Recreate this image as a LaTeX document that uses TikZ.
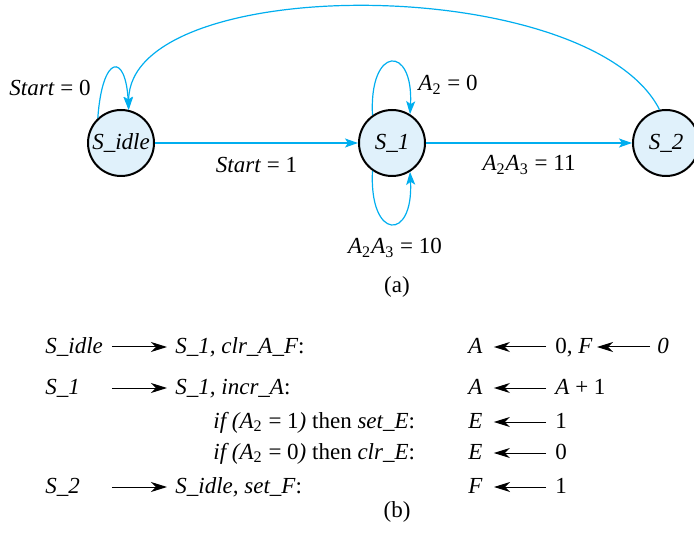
\documentclass[tikz,border=0pt]{standalone}
\usepackage{fontspec}
\setmainfont{Liberation Serif}
\usetikzlibrary{arrows.meta}
\definecolor{fsmcyan}{RGB}{0,174,239}
\definecolor{stfill}{RGB}{224,241,251}
\tikzset{
  state/.style={circle,draw,line width=1pt,fill=stfill,minimum size=33pt,inner sep=0pt,font=\itshape},
  trans/.style={draw=fsmcyan,line width=0.6pt,-{Stealth[length=6.5pt,width=4.5pt,inset=1.5pt]}},
  lbl/.style={inner sep=1pt},
  src/.style={anchor=base west,inner sep=0pt,text width=33pt,text height=8pt,text depth=2pt},
  txt/.style={anchor=base west,inner sep=0pt,text height=8pt,text depth=2pt},
  act/.style={line width=0.5pt,-{Stealth[length=8pt,width=5pt,inset=2.5pt]},shorten >=5.5pt,shorten <=4.5pt}
}
\begin{document}
\fontsize{11.5}{13.5}\selectfont
\begin{tikzpicture}[x=0.5pt,y=0.5pt]
\useasboundingbox (0,0) rectangle (694,535);
% (a) state diagram
\node[state] (sidle) at (121,392) {S\_idle};
\node[state] (sone) at (392,392) {S\_1};
\node[state] (stwo) at (666,392) {S\_2};
\draw[trans] (sidle) -- node[lbl,below=6pt]{\textit{Start} = 1} (sone);
\draw[trans] (sone) -- node[lbl,below=5pt]{\textit{A}\textsubscript{2}\textit{A}\textsubscript{3} = 11} (stwo);
\draw[trans] (sidle.133) .. controls +(86:64) and +(93:58) .. (sidle.77);
\draw[trans] (stwo.101) .. controls +(117:154) and +(90:138) .. (sidle.77);
\draw[trans] (sone.125) .. controls +(93:70) and +(87:70) .. (sone.58);
\draw[trans] (sone.235) .. controls +(267:70) and +(273:70) .. (sone.302);
\node[lbl] (idleloop) at (50,447) {\textit{Start} = 0};
\node[lbl,anchor=west] (oneup) at (416,450) {\textit{A}\textsubscript{2} = 0};
\node[lbl] (onedown) at (395,287) {\textit{A}\textsubscript{2}\textit{A}\textsubscript{3} = 10};
\node[anchor=base] (capa) at (397,242) {(a)};
% (b) state transitions and register operations
\node[src] (idlesrc) at (45,182) {\textit{S\_idle}};
\node[txt] (idledst) at (175,182) {\textit{S\_1, clr\_A\_F}:};
\draw[act,shorten <=0pt,shorten >=4pt] (idlesrc.east) -- (idledst.west);
\node[txt] (clra) at (468,182) {\textit{A}};
\node[txt] (clrav) at (555,182) {0, \textit{F}};
\node[txt] (clrf) at (657,182) {\textit{0}};
\draw[act] (clrav.west) -- (clra.east);
\draw[act,shorten >=2pt,shorten <=3.5pt] (clrf.west) -- (clrav.east);

\node[src] (onesrc) at (45,141) {\textit{S\_1}};
\node[txt] (onedst) at (175,141) {\textit{S\_1, incr\_A}:};
\draw[act,shorten <=0pt,shorten >=4pt] (onesrc.east) -- (onedst.west);
\node[txt] (inca) at (468,141) {\textit{A}};
\node[txt] (incav) at (555,141) {\textit{A} + 1};
\draw[act] (incav.west) -- (inca.east);

\node[txt] (setcond) at (213,107) {\textit{if (A}\textsubscript{2} = 1\textit{)} then \textit{set\_E}:};
\node[txt] (sete) at (468,107) {\textit{E}};
\node[txt] (setev) at (555,107) {1};
\draw[act] (setev.west) -- (sete.east);

\node[txt] (clrcond) at (213,76) {\textit{if (A}\textsubscript{2} = 0\textit{)} then \textit{clr\_E}:};
\node[txt] (clre) at (468,76) {\textit{E}};
\node[txt] (clrev) at (555,76) {0};
\draw[act] (clrev.west) -- (clre.east);

\node[src] (twosrc) at (45,42) {\textit{S\_2}};
\node[txt] (twodst) at (175,42) {\textit{S\_idle, set\_F}:};
\draw[act,shorten <=0pt,shorten >=4pt] (twosrc.east) -- (twodst.west);
\node[txt] (setf) at (468,42) {\textit{F}};
\node[txt] (setfv) at (555,42) {1};
\draw[act] (setfv.west) -- (setf.east);
\node[anchor=base] (capb) at (397,18) {(b)};
\end{tikzpicture}
\end{document}
